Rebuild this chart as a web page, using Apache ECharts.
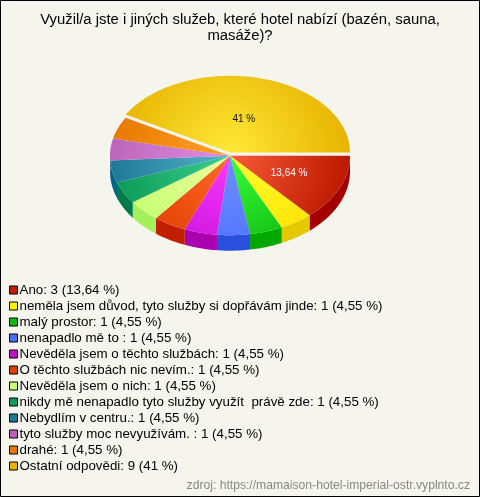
<!DOCTYPE html>
<html>
<head>
<meta charset="utf-8">
<style>html,body{margin:0;padding:0;background:#f5f5ee}#c{width:480px;height:497px}</style>
<script src="https://cdn.jsdelivr.net/npm/echarts@6/dist/echarts.min.js"></script>
</head>
<body>
<div id="c"></div>
<script>
const chartTitle = 'Využil/a jste i jiných služeb, které hotel nabízí (bazén, sauna,\nmasáže)?';
const sourceNote = 'zdroj: https://mamaison-hotel-imperial-ostr.vyplnto.cz';
const categories = ['Ano','neměla jsem důvod, tyto služby si dopřávám jinde','malý prostor','nenapadlo mě to ','Nevěděla jsem o těchto službách','O těchto službách nic nevím.','Nevěděla jsem o nich','nikdy mě nenapadlo tyto služby využít  právě zde','Nebydlím v centru.','tyto služby moc nevyužívám. ','drahé','Ostatní odpovědi'];
const values = [3,1,1,1,1,1,1,1,1,1,1,9];
const percentLabels = ['13,64 %','4,55 %','4,55 %','4,55 %','4,55 %','4,55 %','4,55 %','4,55 %','4,55 %','4,55 %','4,55 %','41 %'];
const sliceLabels = ['13,64 %','','','','','','','','','','','41 %'];
const labelColors = ['#ffffff','','','','','','','','','','','#111111'];
const legendColors = ['#c02000','#ffee00','#10b810','#4a6cff','#c010c8','#e04000','#c8ff70','#109a60','#1f7a98','#bb60bb','#e87800','#e6b400'];
const innerColors = ['#f85a38','#ffff30','#38ff38','#6e90ff','#ff38ff','#ff6a28','#eaffa0','#38d090','#55b4cc','#e48ce4','#ffa428','#ffe838'];
const outerColors = ['#bc1a00','#ffe000','#0cb40c','#4a6cff','#c010d8','#e03c00','#c4ff6e','#0f9a58','#1f7a98','#bb66bb','#e87800','#e6b400'];
const wallColors = ['#a50000','#e6c800','#00a800','#2a4fdc','#aa00b0','#c01f00','#a5f05a','#007a48','#006688','#8a3a8a','#b85c00','#b88c00'];

const CX = 230, CY = 155.7, RX = 120, RY_FRONT = 79.5, RY_BACK = 76.7, DEPTH = 15.5;
const EXPLODED = 11, EXPLODE_DY = -3.2;
const total = values.reduce((a, b) => a + b, 0);
const rad = d => d * Math.PI / 180;
// slight perspective skew of the drawn angles
const warp = d => d - 3.4 * Math.pow(Math.sin(rad(d / 2)), 2);
const pt = (d, dy) => {
  const s = Math.sin(rad(d));
  return [CX + RX * Math.cos(rad(d)), CY + (dy || 0) + (s >= 0 ? RY_FRONT : RY_BACK) * s];
};
const arc = (a, b, dy) => {
  const pts = [], n = Math.max(2, Math.ceil(Math.abs(b - a)));
  for (let i = 0; i <= n; i++) pts.push(pt(a + (b - a) * i / n, dy));
  return pts;
};
const series = categories.map((c, idx) => {
  const before = values.slice(0, idx).reduce((a, b) => a + b, 0);
  return {
    type: 'custom',
    name: c + ': ' + values[idx] + ' (' + percentLabels[idx] + ')',
    coordinateSystem: 'none',
    silent: true,
    itemStyle: { color: legendColors[idx] },
    z: 2 + idx,
    data: [[values[idx]]],
    renderItem: function (params, api) {
      const v = api.value(0);
      const a1 = warp(before / total * 360), a2 = warp((before + v) / total * 360);
      const dy = idx === EXPLODED ? EXPLODE_DY : 0;
      const children = [];
      if (a1 < 180) {
        const end = Math.min(a2, 180);
        const top = arc(a1, end, dy), bottom = arc(end, a1, dy + DEPTH);
        children.push({ type: 'polygon', shape: { points: top.concat(bottom) }, style: { fill: wallColors[idx] } });
      }
      const pts = [[CX, CY + dy]].concat(arc(a1, a2, dy));
      children.push({
        type: 'polygon',
        shape: { points: pts },
        style: { fill: { type: 'radial', x: CX, y: CY + dy, r: 118, global: true,
          colorStops: [{ offset: 0, color: innerColors[idx] }, { offset: 1, color: outerColors[idx] }] } }
      });
      if (sliceLabels[idx]) {
        const mid = (a1 + a2) / 2, f = idx === EXPLODED ? 0.45 : 0.54, p = pt(mid, dy);
        children.push({
          type: 'text', z2: 50,
          style: { x: CX + (p[0] - CX) * f, y: CY + dy + (p[1] - CY - dy) * f, text: sliceLabels[idx],
            fill: labelColors[idx], font: '10px "Liberation Sans", Arial, sans-serif', align: 'center', verticalAlign: 'middle' }
        });
      }
      return { type: 'group', children };
    }
  };
});
const chart = echarts.init(document.getElementById('c'), null, { renderer: 'canvas' });
chart.setOption({
  animation: false,
  backgroundColor: '#f5f5ee',
  title: [
    { text: chartTitle, left: 235, top: 7, textAlign: 'center',
      textStyle: { fontFamily: '"Liberation Sans", Arial, sans-serif', fontSize: 14.85, fontWeight: 'normal', color: '#000', lineHeight: 16 } },
    { text: sourceNote, right: 5, top: 474.5,
      textStyle: { fontFamily: '"Liberation Sans", Arial, sans-serif', fontSize: 12.15, fontWeight: 'normal', color: '#888' } }
  ],
  legend: {
    orient: 'vertical', left: 9, top: 283, padding: 0, itemGap: 2.0, itemWidth: 8, itemHeight: 8,
    icon: 'rect', selectedMode: false,
    textStyle: { fontFamily: '"Liberation Sans", Arial, sans-serif', fontSize: 13.33, color: '#000', padding: [0, 0, 0, -3], lineHeight: 14 },
    data: series.map((s, i) => ({ name: s.name, itemStyle: { color: legendColors[i], borderColor: '#000', borderWidth: 1 } }))
  },
  graphic: [{ type: 'rect', silent: true, z: 100, shape: { x: 0.5, y: 0.5, width: 479, height: 496 }, style: { fill: 'none', stroke: '#000', lineWidth: 1 } }],
  series
});
</script>
</body>
</html>
